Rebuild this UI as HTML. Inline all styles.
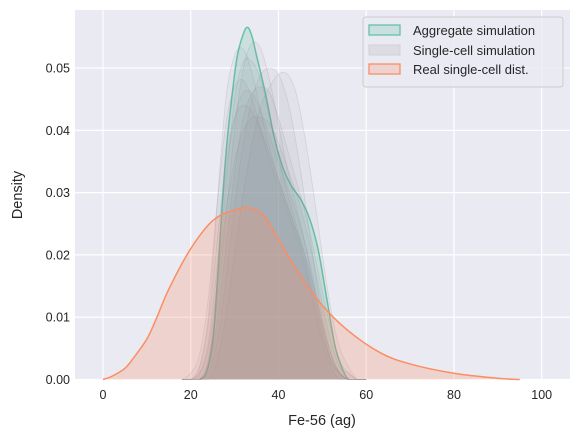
<!DOCTYPE html>
<html><head><meta charset="utf-8"><style>
html,body{margin:0;padding:0;background:#fff;}
svg{display:block;font-family:"Liberation Sans","DejaVu Sans",sans-serif;}
</style></head><body>
<svg id="chart" width="579" height="437" viewBox="0 0 579 437" xmlns="http://www.w3.org/2000/svg">
<rect x="75" y="10" width="495" height="370" fill="#eaeaf2"/>
<g id="grid"></g>
<g id="series"></g>
<g id="ticks" font-size="12.5" fill="#262626"></g>
<text x="322" y="425" text-anchor="middle" font-size="14.5" fill="#262626">Fe-56 (ag)</text>
<text transform="translate(22,195) rotate(-90)" text-anchor="middle" font-size="14.5" fill="#262626">Density</text>
<g>
<rect x="363" y="17" width="200" height="70" rx="3" fill="#eaeaf2" fill-opacity="0.8" stroke="#cccccc" stroke-width="1"/>
<g>
<rect x="369" y="25" width="31" height="10" fill="#66c2a5" fill-opacity="0.25" stroke="#66c2a5" stroke-width="1.3"/>
<text x="413" y="35" font-size="13" fill="#262626">Aggregate simulation</text></g>
<g>
<rect x="369" y="45" width="31" height="10" fill="#dcdce2" stroke="#d0d0d6" stroke-width="1"/>
<text x="413" y="55" font-size="13" fill="#262626">Single-cell simulation</text></g>
<g>
<rect x="369" y="64" width="31" height="10" fill="#fc8d62" fill-opacity="0.25" stroke="#fc8d62" stroke-width="1.3"/>
<text x="413" y="74" font-size="13" fill="#262626">Real single-cell dist.</text></g>
</g>
</svg>
<script>
const xTicks=[0,20,40,60,80,100];
const yTicks=[0,0.01,0.02,0.03,0.04,0.05];
const yTickLabels=["0.00","0.01","0.02","0.03","0.04","0.05"];
const aggX=[22,23.5,25,26,27,28,29,30.5,32,33,34,35,37,39,41,43,45,47,49,51,53,55,56];
const aggY=[0,0.001,0.006,0.015,0.026,0.036,0.043,0.0515,0.0555,0.0565,0.055,0.052,0.046,0.039,0.034,0.031,0.029,0.026,0.021,0.013,0.005,0.001,0];
const realX=[0,2,5,7,10,12,15,20,25,30,34,37,40,44,49.5,55.6,63.2,70,80,90,95];
const realY=[0,0.0005,0.0018,0.0035,0.0065,0.0095,0.0145,0.021,0.0255,0.0272,0.0275,0.026,0.0225,0.0178,0.0123,0.008,0.0043,0.0025,0.001,0.0002,0];
const cellX=[18,20,22,24,26,28,30,32,34,36,38,40,42,44,46,48,50,52,54,56,58,60];
const cell1=[0,0,0.002,0.01,0.028,0.045,0.052,0.053,0.049,0.043,0.037,0.032,0.028,0.024,0.019,0.013,0.007,0.003,0.001,0,0,0];
const cell2=[0,0,0,0.003,0.012,0.026,0.040,0.050,0.054,0.053,0.048,0.041,0.034,0.028,0.022,0.015,0.008,0.003,0.001,0,0,0];
const cell3=[0,0,0,0.001,0.006,0.016,0.028,0.038,0.045,0.049,0.050,0.049,0.045,0.038,0.029,0.019,0.010,0.004,0.001,0,0,0];
const cell4=[0,0,0.001,0.006,0.018,0.033,0.042,0.046,0.046,0.043,0.039,0.035,0.031,0.027,0.022,0.016,0.009,0.004,0.001,0,0,0];
const cell5=[0,0,0,0,0.003,0.010,0.020,0.030,0.038,0.044,0.047,0.049,0.049,0.046,0.039,0.030,0.020,0.011,0.005,0.002,0,0];
const cell6=[0,0.001,0.004,0.013,0.028,0.041,0.047,0.048,0.045,0.040,0.035,0.031,0.027,0.023,0.018,0.012,0.006,0.002,0,0,0,0];
const cell7=[0,0,0.001,0.005,0.015,0.027,0.035,0.040,0.042,0.042,0.041,0.038,0.034,0.030,0.025,0.019,0.012,0.006,0.002,0.001,0,0];
const cell8=[0,0,0,0.003,0.014,0.031,0.045,0.051,0.051,0.048,0.042,0.036,0.030,0.025,0.020,0.014,0.008,0.003,0.001,0,0,0];
const cell9=[0,0,0,0.002,0.009,0.021,0.033,0.042,0.046,0.047,0.046,0.042,0.037,0.032,0.027,0.021,0.014,0.008,0.003,0.001,0,0];
const cell10=[0,0,0.002,0.009,0.022,0.035,0.042,0.044,0.043,0.040,0.036,0.032,0.028,0.024,0.020,0.015,0.009,0.004,0.001,0,0,0];
const cells=[cell1,cell2,cell3,cell4,cell5,cell6,cell7,cell8,cell9,cell10];

const NS="http://www.w3.org/2000/svg";
function sx(v){return 103+v*4.387;}
function sy(v){return 379.5-v*6230;}
function mk(t,a,p){const e=document.createElementNS(NS,t);for(const k in a)e.setAttribute(k,a[k]);p.appendChild(e);return e;}
function smooth(xs,ys){
  const p=xs.map((x,i)=>[sx(x),sy(ys[i])]);
  let d="M"+p[0][0]+","+p[0][1];
  for(let i=0;i<p.length-1;i++){
    const p0=p[i-1]||p[i],p1=p[i],p2=p[i+1],p3=p[i+2]||p2;
    const c1=[p1[0]+(p2[0]-p0[0])/6,p1[1]+(p2[1]-p0[1])/6];
    const c2=[p2[0]-(p3[0]-p1[0])/6,p2[1]-(p3[1]-p1[1])/6];
    d+=" C"+c1[0]+","+Math.min(c1[1],379.5)+" "+c2[0]+","+Math.min(c2[1],379.5)+" "+p2[0]+","+p2[1];
  }
  return d;
}
const grid=document.getElementById('grid'),ser=document.getElementById('series'),tk=document.getElementById('ticks');
xTicks.forEach(v=>{
  const l=mk('line',{x1:sx(v),x2:sx(v),y1:10,y2:380,stroke:'#fff','stroke-width':1.2},grid);
  
  
  const t=mk('text',{x:sx(v),y:399,'text-anchor':'middle'},tk);t.textContent=v;
  
  
});
yTicks.forEach((v,i)=>{
  const l=mk('line',{x1:75,x2:570,y1:sy(v),y2:sy(v),stroke:'#fff','stroke-width':1.2},grid);
  
  
  const t=mk('text',{x:70,y:sy(v)+4.5,'text-anchor':'end'},tk);t.textContent=yTickLabels[i];
  
  
});
function area(xs,ys,color,fo,so,sw,name){
  const d=smooth(xs,ys);
  const f=mk('path',{d:d+" L"+sx(xs[xs.length-1])+",379.5 L"+sx(xs[0])+",379.5 Z",fill:color,'fill-opacity':fo,stroke:'none'},ser);
  
  
  const l=mk('path',{d:d,fill:'none',stroke:color,'stroke-opacity':so,'stroke-width':sw},ser);
  
  
}
area(aggX,aggY,'#66c2a5',0.25,1,1.5,'aggregate-simulation');
cells.forEach((c,i)=>area(cellX,c,'#8e8e96',0.08,0.22,0.8,'single-cell-'+(i+1)));
area(realX,realY,'#fc8d62',0.25,1,1.5,'real-single-cell');
</script>
</body></html>
